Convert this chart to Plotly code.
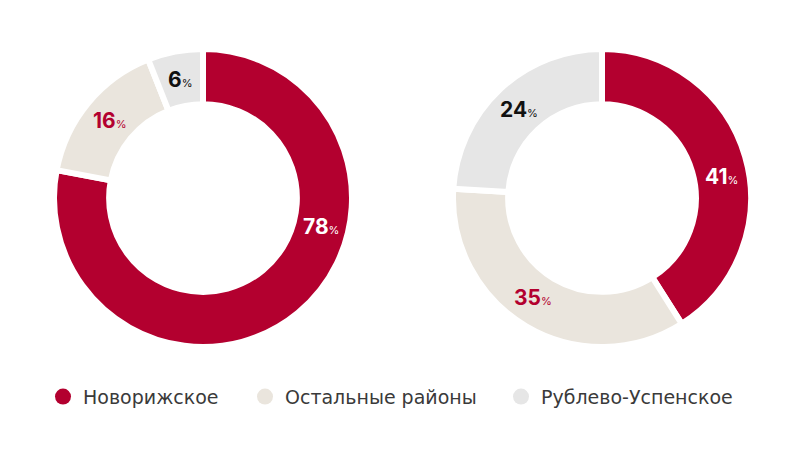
import math
import plotly.graph_objects as go

categories = ["Новорижское", "Остальные районы", "Рублево-Успенское"]
left_values = [78, 16, 6]
right_values = [41, 35, 24]
colors = ["#B3002F", "#EAE5DD", "#E6E6E6"]
text_colors = ["#FFFFFF", "#B3002F", "#111111"]
# label angle nudges (degrees) to match the reference label placement
left_label_shift = [-37, 0, 0]
right_label_shift = [6, 4, 0]

FONT = "Inter, 'Open Sans', sans-serif"
LEG_FONT = "'DejaVu Sans', sans-serif"

W, H = 801, 456
CY, R_OUT, R_LABEL = 198, 149, 121

def dom(cx, cy, r):
    return dict(x=[(cx - r) / W, (cx + r) / W], y=[1 - (cy + r) / H, 1 - (cy - r) / H])

fig = go.Figure()
annotations = []
for vals, shifts, cx in [(left_values, left_label_shift, 203), (right_values, right_label_shift, 602)]:
    fig.add_trace(go.Pie(
        labels=categories, values=vals, textinfo="none",
        sort=False, direction="clockwise", rotation=0, hole=0.63,
        marker=dict(colors=colors, line=dict(color="white", width=6)),
        domain=dom(cx, CY, R_OUT), showlegend=False, hoverinfo="skip",
    ))
    total = sum(vals)
    cum = 0
    for v, s, tc in zip(vals, shifts, text_colors):
        a = math.radians((cum + v / 2) / total * 360 + s)
        cum += v
        x = cx + R_LABEL * math.sin(a)
        y = CY - R_LABEL * math.cos(a)
        annotations.append(dict(
            x=x / W, y=1 - y / H, xref="paper", yref="paper", showarrow=False,
            text=f"<b>{v}</b><span style='font-size:11px'>%</span>",
            font=dict(family=FONT, size=21, color=tc), xanchor="center", yanchor="middle"))

legend_x = [43, 245, 501]
for i, (c, col) in enumerate(zip(categories, colors)):
    lg = "legend" if i == 0 else f"legend{i+1}"
    fig.add_trace(go.Scatter(x=[None], y=[None], mode="markers", name=c, legend=lg,
                             marker=dict(color=col, size=17, symbol="circle")))

leg_common = dict(orientation="h", y=0.13, yanchor="middle", xanchor="left",
                  font=dict(family=LEG_FONT, size=19, color="#3a3a3a"),
                  bgcolor="rgba(0,0,0,0)", borderwidth=0)
fig.update_layout(
    width=W, height=H, margin=dict(l=0, r=0, t=0, b=0),
    paper_bgcolor="white", plot_bgcolor="white",
    xaxis=dict(visible=False), yaxis=dict(visible=False),
    legend=dict(x=legend_x[0] / W, **leg_common),
    legend2=dict(x=legend_x[1] / W, **leg_common),
    legend3=dict(x=legend_x[2] / W, **leg_common),
    annotations=annotations,
)
fig.write_html("out.html")
